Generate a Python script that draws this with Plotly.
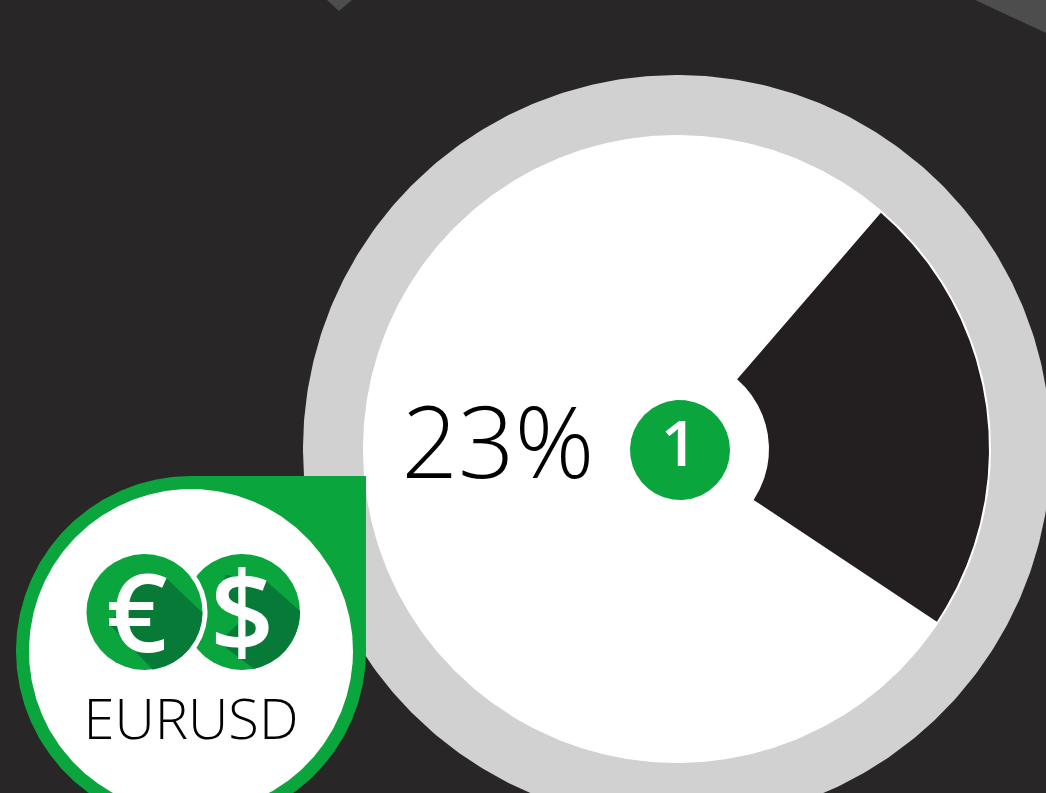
import numpy as np
import plotly.graph_objects as go

# Data
percent_label = "23%"
rank_label = "1"
pair_label = "EURUSD"
share_percent = 23
start_angle_deg = 49.2

# Palette
BG = "#282627"; RING = "#d1d1d1"; WEDGE = "#231f20"; GREEN = "#0aa53c"; DARK_GREEN = "#077a38"; GHOST = "#4d4d4d"
W, H = 1046, 793
CX, CY = 677, 449


def arc(cx, cy, r, a0, a1, n=480):
    # a in degrees, counter-clockwise on screen
    t = np.radians(np.linspace(a0, a1, n))
    return cx + r * np.cos(t), cy - r * np.sin(t)


fig = go.Figure()


def poly(x, y, color):
    fig.add_trace(go.Scatter(x=list(x), y=list(y), mode="lines", fill="toself", fillcolor=color,
                             line=dict(width=0, color=color), hoverinfo="skip", showlegend=False))


def disc(cx, cy, r, color):
    x, y = arc(cx, cy, r, 0, 360)
    poly(x, y, color)


def label(x, y, text, size, color, weight=400):
    fig.add_trace(go.Scatter(x=[x], y=[y], mode="text", text=[text], textposition="middle center",
                             textfont=dict(family="Open Sans", size=size, color=color, weight=weight),
                             hoverinfo="skip", showlegend=False))


# faint neighbouring shapes clipped by the top edge
poly([327, 339, 352], [0, 11, 0], GHOST)
poly([975, 1046, 1046], [0, 33, 0], GHOST)

# gauge
disc(CX, CY, 374, RING)
disc(CX, CY, 314, "#ffffff")
sweep = share_percent / 100 * 360
a0, a1 = start_angle_deg, start_angle_deg - sweep
ox, oy = arc(CX, CY, 312, a0, a1)
ix, iy = arc(CX, CY, 92, a1, a0)
poly(np.r_[ox, ix], np.r_[oy, iy], WEDGE)
disc(680, 450, 50, GREEN)
label(679, 450, rank_label, 64, "#ffffff", 600)
label(498, 453, percent_label, 99, "#000000", 300)

# badge
bx, by, br = 191, 651, 175
disc(bx, by, br, GREEN)
poly([bx, bx + br, bx + br, bx], [by - br, by - br, by, by], GREEN)
disc(bx, by, 162, "#ffffff")

# coins
disc(242, 612, 58, GREEN)
sx, sy = arc(242, 612, 58, 2, -78)
poly(np.r_[[265], sx, [218, 238, 238, 224, 225]], np.r_[[580], sy, [642, 624, 608, 595, 575]], DARK_GREEN)
label(242, 624, "$", 112, "#ffffff", 600)
disc(144.5, 612, 63, "#ffffff")
disc(144.5, 612, 58, GREEN)
ex, ey = arc(144.5, 612, 58, 0, -82)
poly(np.r_[[165], ex, [108, 122, 130]], np.r_[[577], ey, [623, 610, 585]], DARK_GREEN)
label(137, 625, "€", 108, "#ffffff", 600)
label(191, 725, pair_label, 56, "#000000", 300)

fig.update_layout(width=W, height=H, margin=dict(l=0, r=0, t=0, b=0), paper_bgcolor=BG, plot_bgcolor=BG,
                  showlegend=False,
                  xaxis=dict(range=[0, W], visible=False, fixedrange=True),
                  yaxis=dict(range=[H, 0], visible=False, fixedrange=True))
fig.write_html("out.html", config={"displayModeBar": False},
               post_script="document.body.style.margin='0';document.body.style.overflow='hidden';"
                           "document.body.style.background='%s';"
                           "var s=document.createElement('style');"
                           "s.textContent='.js-plotly-plot path{shape-rendering:geometricPrecision !important}';"
                           "document.head.appendChild(s);" % BG)
